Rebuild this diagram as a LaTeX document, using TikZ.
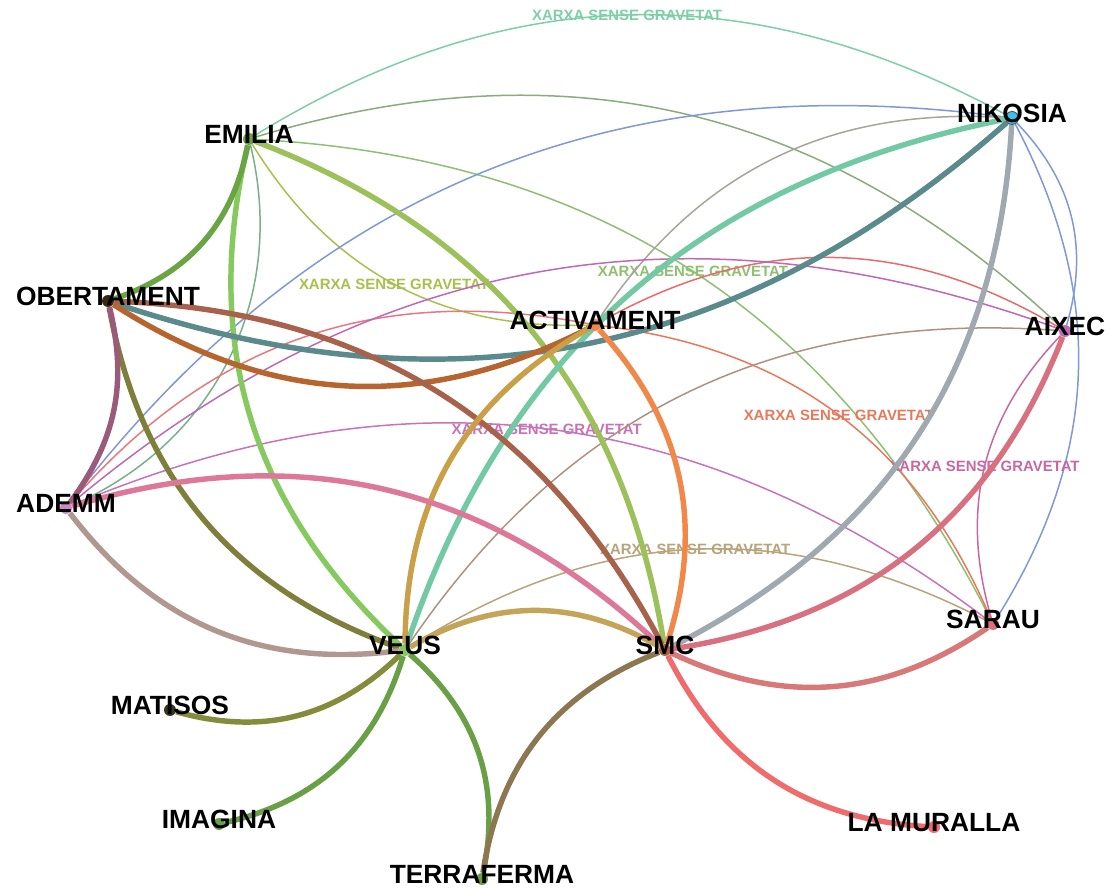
\documentclass[tikz,border=0pt]{standalone}
\usepackage{fontspec}
\setmainfont{Liberation Sans}
\usetikzlibrary{backgrounds}

\definecolor{cMint}{HTML}{7DCFA8}
\definecolor{cSage}{HTML}{8AAB7C}
\definecolor{cLeaf}{HTML}{8FBF72}
\definecolor{cLime}{HTML}{A9C04D}
\definecolor{cFern}{HTML}{78B08A}
\definecolor{cBlue}{HTML}{7F98D8}
\definecolor{cStone}{HTML}{A8A498}
\definecolor{cSalmon}{HTML}{E8785A}
\definecolor{cRed}{HTML}{E86A6A}
\definecolor{cRose}{HTML}{E87880}
\definecolor{cPurple}{HTML}{C068B8}
\definecolor{cOrchid}{HTML}{C872B8}
\definecolor{cMagenta}{HTML}{C868A0}
\definecolor{cTaupe}{HTML}{B09080}
\definecolor{cTan}{HTML}{B8A47A}
\definecolor{cPea}{HTML}{9CC05A}
\definecolor{cLight}{HTML}{86C95E}
\definecolor{cGrass}{HTML}{6AA443}
\definecolor{cAqua}{HTML}{72C9A4}
\definecolor{cSlate}{HTML}{5B8A8C}
\definecolor{cGrey}{HTML}{A0A8B0}
\definecolor{cRust}{HTML}{B8642E}
\definecolor{cBrown}{HTML}{A8614A}
\definecolor{cOlive}{HTML}{7F7F3C}
\definecolor{cMauve}{HTML}{9A5A7A}
\definecolor{cGold}{HTML}{C9A047}
\definecolor{cOrange}{HTML}{F0884A}
\definecolor{cPink}{HTML}{DE7898}
\definecolor{cAsh}{HTML}{B09890}
\definecolor{cCoral}{HTML}{D87080}
\definecolor{cSand}{HTML}{C4A458}
\definecolor{cMoss}{HTML}{848C3C}
\definecolor{cForest}{HTML}{6AA045}
\definecolor{cUmber}{HTML}{8C7850}
\definecolor{cBlush}{HTML}{D87878}
\definecolor{cScarlet}{HTML}{F06C6C}
\definecolor{cSky}{HTML}{3CC0F0}

\tikzset{
  dot/.style={circle, fill=#1, inner sep=0pt, minimum size=0.24cm},
  org/.style={font=\fontsize{15}{18}\selectfont\bfseries, text=black, inner sep=0pt, yshift=2.5pt},
  thinedge/.style={draw=#1, line width=0.85pt},
  thickedge/.style={draw=#1, line width=3.1pt},
  xlbl/.style={font=\fontsize{8.5}{10}\selectfont\bfseries, text=#1, inner sep=0pt}
}

\begin{document}
\begin{tikzpicture}[x=0.02cm, y=0.02cm]
  \useasboundingbox (0,0) rectangle (1110,-888);

  % organisations
  \node[dot=cGrass] (EM) at (249,-139) {};
  \node[dot=cSky, draw=black!70, line width=0.5pt, minimum size=0.26cm] (NI) at (1012,-118) {};
  \node[dot=black!70!brown] (OB) at (108,-301) {};
  \node[dot=cOrange] (AC) at (595,-325) {};
  \node[dot=cPurple] (AX) at (1065,-331) {};
  \node[dot=cPurple!80] (AD) at (66,-508) {};
  \node[dot=cLight] (VE) at (405,-650) {};
  \node[dot=cBrown] (SM) at (665,-650) {};
  \node[dot=cCoral] (SA) at (993,-624) {};
  \node[dot=black!60!cMoss] (MA) at (170,-710) {};
  \node[dot=cForest] (IM) at (219,-824) {};
  \node[dot=cForest] (TE) at (482,-879) {};
  \node[dot=cScarlet] (LM) at (934,-827) {};

  \begin{scope}[on background layer]
    \fill[white] (0,0) rectangle (1110,-888);
    % thin links
    \draw[thinedge=cMint] (EM) to[bend left] node[xlbl=cMint] (l1) {XARXA SENSE GRAVETAT} (NI);
    \draw[thinedge=cSage] (EM) to[bend left] (AX);
    \draw[thinedge=cLeaf] (EM) to[bend left] node[xlbl=cLeaf] (l2) {XARXA SENSE GRAVETAT} (SA);
    \draw[thinedge=cLime] (EM) to[bend right] node[xlbl=cLime] (l3) {XARXA SENSE GRAVETAT} (AC);
    \draw[thinedge=cFern] (EM) to[bend left=40] (AD);
    \draw[thinedge=cBlue] (NI) to[bend right] (AD);
    \draw[thinedge=cBlue] (NI) to[bend left] (AX);
    \draw[thinedge=cBlue] (NI) to[bend left] (SA);
    \draw[thinedge=cStone] (NI) to[bend right] (AC);
    \draw[thinedge=cSalmon] (AC) to[bend left] node[xlbl=cSalmon] (l4) {XARXA SENSE GRAVETAT} (SA);
    \draw[thinedge=cRed] (AC) to[bend left] (AX);
    \draw[thinedge=cRose] (AD) to[bend left] (AC);
    \draw[thinedge=cPurple] (AD) to[bend left] (AX);
    \draw[thinedge=cOrchid] (AD) to[bend left] node[xlbl=cOrchid] (l5) {XARXA SENSE GRAVETAT} (SA);
    \draw[thinedge=cMagenta] (AX) to[bend right] node[xlbl=cMagenta] (l6) {XARXA SENSE GRAVETAT} (SA);
    \draw[thinedge=cTaupe] (AX) to[bend right] (VE);
    \draw[thinedge=cTan] (VE) to[bend left] node[xlbl=cTan] (l7) {XARXA SENSE GRAVETAT} (SA);
    % thick links
    \draw[thickedge=cPea] (EM) to[bend left] (SM);
    \draw[thickedge=cLight] (EM) to[bend right] (VE);
    \draw[thickedge=cGrass] (EM) to[bend left] (OB);
    \draw[thickedge=cAqua] (NI) to[bend right] (VE);
    \draw[thickedge=cSlate] (NI) to[bend left] (OB);
    \draw[thickedge=cGrey] (NI) to[bend left] (SM);
    \draw[thickedge=cRust] (OB) to[bend right] (AC);
    \draw[thickedge=cBrown] (OB) to[bend left] (SM);
    \draw[thickedge=cOlive] (OB) to[bend right] (VE);
    \draw[thickedge=cMauve] (OB) to[bend left=25] (AD);
    \draw[thickedge=cGold] (AC) to[bend right] (VE);
    \draw[thickedge=cOrange] (AC) to[bend left] (SM);
    \draw[thickedge=cPink] (AD) to[bend left] (SM);
    \draw[thickedge=cAsh] (AD) to[bend right] (VE);
    \draw[thickedge=cCoral] (AX) to[bend left] (SM);
    \draw[thickedge=cSand] (VE) to[bend left] (SM);
    \draw[thickedge=cMoss] (VE) to[bend left] (MA);
    \draw[thickedge=cForest] (VE) to[bend left] (IM);
    \draw[thickedge=cForest] (VE) to[bend left] (TE);
    \draw[thickedge=cUmber] (SM) to[bend right] (TE);
    \draw[thickedge=cBlush] (SM) to[bend right] (SA);
    \draw[thickedge=cScarlet] (SM) to[bend right] (LM);
  \end{scope}

  % names
  \node[org] (tEM) at (EM) {EMILIA};
  \node[org] (tNI) at (NI) {NIKOSIA};
  \node[org] (tOB) at (OB) {OBERTAMENT};
  \node[org] (tAC) at (AC) {ACTIVAMENT};
  \node[org] (tAX) at (AX) {AIXEC};
  \node[org] (tAD) at (AD) {ADEMM};
  \node[org] (tVE) at (VE) {VEUS};
  \node[org] (tSM) at (SM) {SMC};
  \node[org] (tSA) at (SA) {SARAU};
  \node[org] (tMA) at (MA) {MATISOS};
  \node[org] (tIM) at (IM) {IMAGINA};
  \node[org] (tTE) at (TE) {TERRAFERMA};
  \node[org] (tLM) at (LM) {LA MURALLA};
\end{tikzpicture}
\end{document}
